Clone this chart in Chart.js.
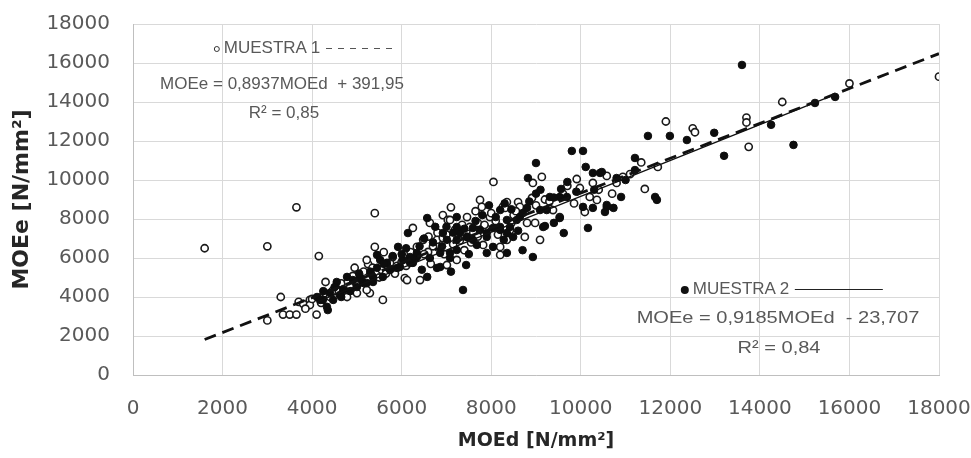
<!DOCTYPE html>
<html>
<head>
<meta charset="utf-8">
<script src="https://cdn.jsdelivr.net/npm/chart.js@4.4.1/dist/chart.umd.min.js"></script>
<style>
  html, body { margin: 0; padding: 0; background: #fff; }
  #wrap { position: relative; width: 971px; height: 458px; font-family: "Liberation Sans", Arial, sans-serif; }
  #chart { position: absolute; left: 0; top: 0; }
  .note { position: absolute; color: #595959; font-size: 17px; white-space: nowrap; transform: translateX(-50%); line-height: 20px; }
  .wide { transform: translateX(-50%) scaleX(1.18); }
  .mk { display: inline-block; border-radius: 50%; vertical-align: middle; margin-right: 4px; }
  .mk.open { border: 1px solid #333; width: 4px; height: 4px; }
  .mk.fill { background: #111; width: 8px; height: 8px; }
  .ln { display: inline-block; vertical-align: middle; margin-left: 6px; height: 1.5px; }
  .ln.dash { width: 72px; background: repeating-linear-gradient(90deg, #555 0 6px, transparent 6px 12px); }
  .ln.solid { width: 88px; background: #222; }
</style>
</head>
<body>
<div id="wrap">
  <canvas id="chart" width="971" height="458"></canvas>
  <div class="note" style="left:306px; top:38px;"><span class="mk open"></span>MUESTRA 1<span class="ln dash"></span></div>
  <div class="note" style="left:282px; top:74px;">MOEe = 0,8937MOEd&nbsp; + 391,95</div>
  <div class="note" style="left:284px; top:103px;">R² = 0,85</div>
  <div class="note" style="left:782px; top:279px;"><span class="mk fill"></span>MUESTRA 2<span class="ln solid"></span></div>
  <div class="note wide" style="left:778px; top:308px;">MOEe = 0,9185MOEd&nbsp; - 23,707</div>
  <div class="note wide" style="left:779px; top:338px;">R² = 0,84</div>
</div>
<script>
// MUESTRA 1 (open circles) [MOEd, MOEe]
const muestra1 = [
  [1600,6500],[3000,6600],[3650,8600],[4150,6100],[3000,2800],[3300,4000],[3350,3100],[3500,3100],
  [3650,3100],[3700,3750],[3800,3650],[3950,3850],[4100,3100],[4300,4770],[5400,8300],[3950,3590],
  [4290,4200],[4910,5080],[5250,5690],[6070,4970],[5290,4200],[5000,4200],[4550,4620],[4780,4000],
  [5220,4360],[5580,3850],[4850,4510],[5220,5900],[5290,5230],[5740,5750],[5800,6050],[6120,4870],
  [6410,4870],[5400,6570],[6030,6050],[6340,6570],[6250,7540],[6480,6930],[6590,6310],[6630,7800],
  [6790,6930],[6920,7030],[6920,8200],[7030,7950],[7080,7950],[7010,5640],[7230,5900],[7190,7440],
  [7460,7080],[7520,7590],[7460,8100],[7750,8980],[7790,8620],[7820,6670],[7970,8100],[8050,9900],
  [8200,6570],[8200,6160],[8260,8620],[8310,8570],[8350,8870],[8350,6930],[8420,7440],[8600,8870],
  [8640,8620],[8750,7080],[8910,9080],[8930,9850],[8980,7800],[9090,6930],[9130,10160],[9380,8460],
  [9530,8100],[9910,10050],[9980,9590],[10090,8360],[10200,9130],[10270,9850],[10360,8980],[10580,10210],
  [10800,9850],[10940,10160],[11430,9540],[11350,10900],[11720,10670],[11900,13000],[12500,12650],[12550,12450],
  [13700,13200],[13700,12950],[13750,11700],[14500,14000],[16000,14950],[18000,15300],
  [4450,4300],[4650,4700],[5100,4900],[5550,5400],[5900,5600],[6200,6300],[6700,6600],[7300,6900],
  [7600,7300],[7700,7800],[7900,7500],[8100,7900],[8500,8200],[9200,9000],[9600,9300],[7350,7700],
  [6950,6200],[6000,5800],[5650,5200],[4700,4400],
  [4000,3900],[4200,3700],[4400,4000],[4600,4300],[4800,4800],[5000,4600],[5150,5300],[5350,5500],
  [5500,5000],[5700,5500],[5850,5200],[6100,5600],[6300,6000],[6500,6200],[6600,7100],[6800,7300],
  [7000,7200],[7150,6700],[7400,6400],[7550,6800],[7700,7100],[7850,7700],[8000,8300],[8150,7200],
  [8450,7800],[8550,8400],[8800,7800],[9000,8700],[9300,8900],[9700,9700],[9850,8800],[10400,9500],
  [10700,9300],[11100,10300],[6650,5700],[7100,8600],[7650,8400],[5600,6300],[4950,5500],[3850,3400]
];

// MUESTRA 2 (filled circles) [MOEd, MOEe]
const muestra2 = [
  [4550,4770],[4400,4200],[4240,3850],[4110,4000],[4350,3330],[4690,4360],[5000,4510],[5140,4720],
  [5450,6160],[5520,5900],[5580,5030],[5900,5490],[6190,5750],[6340,6050],[5360,5030],[4780,5030],
  [5220,4720],[4620,4100],[4470,3850],[4330,3500],[4180,3850],[5070,4980],[5360,4770],[4910,4870],
  [5670,5750],[5740,5390],[5960,5540],[6190,6050],[6340,6260],[5920,6570],[6140,7280],[6570,8050],
  [6570,5030],[6790,5490],[6250,5750],[6030,5900],[6860,5540],[6860,6260],[6630,6000],[7080,6000],
  [7080,6260],[7230,6410],[7230,6930],[7300,7280],[7230,7590],[7230,8100],[6920,7280],[7010,6930],
  [7370,4360],[7440,5640],[7460,7080],[7590,6930],[7590,7540],[7680,6670],[7750,7440],[7900,7080],
  [7900,6260],[7900,7280],[8040,7540],[8040,6570],[8200,7440],[8200,8460],[8200,7590],[8280,6930],
  [8350,6260],[8350,7280],[8350,7950],[8420,7590],[8490,7080],[8570,7950],[8640,8100],[8710,8310],
  [8800,8570],[8820,10100],[8930,6050],[9000,10870],[9090,8460],[9160,7590],[9200,7640],[9240,8460],
  [9310,9130],[9530,9130],[9530,8050],[9560,9540],[9620,7280],[9690,9130],[9800,11490],[10050,11490],
  [10050,8620],[10110,10670],[10160,7540],[10270,10360],[10270,8570],[10430,10360],[10540,8360],[10580,8620],
  [10580,8720],[10730,8570],[10900,9130],[10470,10410],[11210,11130],[11210,10510],[11500,12260],[11660,9130],
  [11700,8980],[11990,12260],[12370,12050],[12980,12420],[13200,11240],[13600,15900],[14250,12830],[14750,11800],
  [15230,13950],[15680,14260],
  [4250,4300],[4500,4500],[4650,4000],[4850,4300],[5050,5200],[5300,5300],[5450,5500],[5600,5700],
  [5800,6100],[6000,6200],[6100,6500],[6400,6600],[6500,7000],[6700,6800],[6750,7600],[6900,6600],
  [7000,7600],[7150,7300],[7400,7500],[7500,6200],[7650,7900],[7800,8200],[7950,8700],[8100,8100],
  [8300,8800],[8450,8500],[8600,7400],[8850,8900],[9000,9300],[9100,9500],[9400,9100],[9700,9900],
  [9900,9400],[10300,9500],[10800,10100],[11000,10000],[6450,5400],[7100,5300],[8700,6400],[9400,7800]
];

// trend lines, end points
const trend1 = [[1600,1820],[18000,16480]];
const trend2 = [[4100,3740],[15700,14400]];

const xTicks = [0,2000,4000,6000,8000,10000,12000,14000,16000,18000];

const toXY = arr => arr.map(p => ({ x: p[0], y: p[1] }));
const tickFont = { family: 'DejaVu Sans', size: 20 };

// keep the plot box fixed: no extra room for overhanging tick labels
function noOverhang(s) {
  s.paddingLeft = 0;
  s.paddingRight = 0;
  s.paddingTop = 0;
  s.paddingBottom = 0;
}

const ctx = document.getElementById('chart').getContext('2d');
const chart = new Chart(ctx, {
  type: 'scatter',
  data: {
    datasets: [
      {
        label: 'trend 1',
        data: toXY(trend1),
        showLine: true,
        borderColor: '#111',
        borderWidth: 2.8,
        borderDash: [12, 7],
        pointRadius: 0,
        order: 0,
      },
      {
        label: 'trend 2',
        data: toXY(trend2),
        showLine: true,
        borderColor: '#111',
        borderWidth: 1.3,
        pointRadius: 0,
        order: 1,
      },
      {
        label: 'MUESTRA 2',
        data: toXY(muestra2),
        backgroundColor: '#0d0d0d',
        borderColor: '#0d0d0d',
        borderWidth: 1,
        pointRadius: 3.8,
        order: 2,
      },
      {
        label: 'MUESTRA 1',
        data: toXY(muestra1),
        backgroundColor: '#ffffff',
        borderColor: '#1a1a1a',
        borderWidth: 1.6,
        pointRadius: 3.6,
        order: 3,
      },
    ],
  },
  options: {
    responsive: false,
    animation: false,
    layout: { padding: { left: 0, right: 32, top: 24, bottom: 0 } },
    plugins: { legend: { display: false }, tooltip: { enabled: false } },
    scales: {
      x: {
        type: 'linear',
        min: 0,
        max: 18000,
        afterBuildTicks: s => { s.ticks = xTicks.map(v => ({ value: v })); },
        afterFit: s => { s.height = 83; noOverhang(s); },
        grid: { color: '#d9d9d9', drawTicks: false },
        border: { color: '#bfbfbf' },
        ticks: { color: '#595959', font: tickFont, padding: 22, maxRotation: 0, callback: v => String(v) },
        title: { display: true, text: 'MOEd [N/mm²]', color: '#262626', font: { family: 'DejaVu Sans', size: 19, weight: 'bold' }, padding: { top: 0, bottom: 6 } },
      },
      y: {
        min: 0,
        max: 18000,
        ticks: { stepSize: 2000, color: '#595959', font: tickFont, padding: 23, callback: v => String(v) },
        afterFit: s => { s.width = 133; noOverhang(s); },
        grid: { color: '#d9d9d9', drawTicks: false },
        border: { color: '#bfbfbf' },
        title: { display: true, text: 'MOEe [N/mm²]', color: '#262626', font: { family: 'DejaVu Sans', size: 22, weight: 'bold' }, padding: { top: 9, bottom: 0 } },
      },
    },
  },
});
</script>
</body>
</html>
